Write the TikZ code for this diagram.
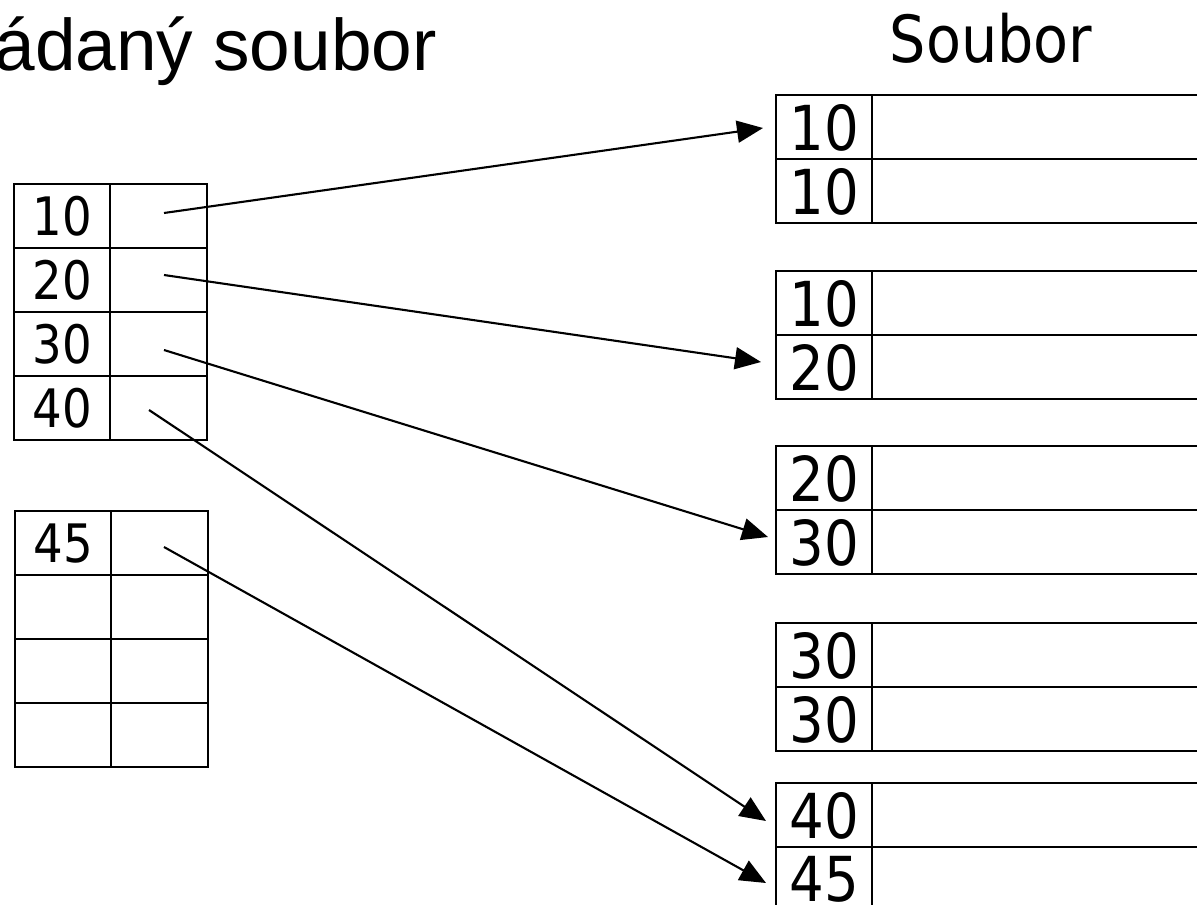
\documentclass[tikz,border=0pt]{standalone}
\usepackage{fontspec}
\usetikzlibrary{arrows.meta}
\setmainfont{Liberation Sans}
\newfontfamily\numfont{DejaVu Sans}[FakeStretch=0.88]
\tikzset{
  cellbox/.style={draw, line width=2.1pt, inner sep=0pt, anchor=north west,
    minimum height=64pt, text depth=0pt},
  keyl/.style={cellbox, minimum width=96pt, font=\numfont\fontsize{53}{53}\selectfont},
  keyr/.style={cellbox, minimum width=96pt, font=\numfont\fontsize{62}{62}\selectfont},
  vall/.style={cellbox, minimum width=97pt},
  valr/.style={cellbox, minimum width=380pt},
  link/.style={line width=2.1pt, -{Triangle[length=26pt,width=22pt]}},
}
\begin{document}
\begin{tikzpicture}[x=1pt,y=-1pt]
\useasboundingbox (0,0) rectangle (1197,905);
% titles
\node[anchor=base east, inner sep=0pt, font=\fontsize{73}{73}\selectfont] (title) at (437,70) {ádaný soubor};
\node[anchor=base, inner sep=0pt, font=\numfont\fontsize{65}{65}\selectfont] (title2) at (991,62) {Soubor};
% left table 1
\node[keyl] (a1) at (13,183) {10};
\node[vall] (b1) at (109,183) {};
\node[keyl] (a2) at (13,247) {20};
\node[vall] (b2) at (109,247) {};
\node[keyl] (a3) at (13,311) {30};
\node[vall] (b3) at (109,311) {};
\node[keyl] (a4) at (13,375) {40};
\node[vall] (b4) at (109,375) {};
% left table 2
\node[keyl] (c1) at (14,510) {45};
\node[vall] (d1) at (110,510) {};
\node[keyl] (c2) at (14,574) {};
\node[vall] (d2) at (110,574) {};
\node[keyl] (c3) at (14,638) {};
\node[vall] (d3) at (110,638) {};
\node[keyl] (c4) at (14,702) {};
\node[vall] (d4) at (110,702) {};
% right blocks
\node[keyr] (r1a) at (775,94) {10};
\node[valr] (v1a) at (871,94) {};
\node[keyr] (r1b) at (775,158) {10};
\node[valr] (v1b) at (871,158) {};
\node[keyr] (r2a) at (775,270) {10};
\node[valr] (v2a) at (871,270) {};
\node[keyr] (r2b) at (775,334) {20};
\node[valr] (v2b) at (871,334) {};
\node[keyr] (r3a) at (775,445) {20};
\node[valr] (v3a) at (871,445) {};
\node[keyr] (r3b) at (775,509) {30};
\node[valr] (v3b) at (871,509) {};
\node[keyr] (r4a) at (775,622) {30};
\node[valr] (v4a) at (871,622) {};
\node[keyr] (r4b) at (775,686) {30};
\node[valr] (v4b) at (871,686) {};
\node[keyr] (r5a) at (775,782) {40};
\node[valr] (v5a) at (871,782) {};
\node[keyr] (r5b) at (775,846) {45};
\node[valr] (v5b) at (871,846) {};
% pointer start points
\coordinate (p1) at (164,213);
\coordinate (p2) at (164,275);
\coordinate (p3) at (164,350);
\coordinate (p4) at (149,410);
\coordinate (p5) at (164,547);
% arrow tips
\coordinate (t1) at (763,128);
\coordinate (t2) at (761,362);
\coordinate (t3) at (768,537);
\coordinate (t4) at (766,821);
\coordinate (t5) at (766,883);
\draw[link] (p1) -- (t1);
\draw[link] (p2) -- (t2);
\draw[link] (p3) -- (t3);
\draw[link] (p4) -- (t4);
\draw[link] (p5) -- (t5);
\end{tikzpicture}
\end{document}
